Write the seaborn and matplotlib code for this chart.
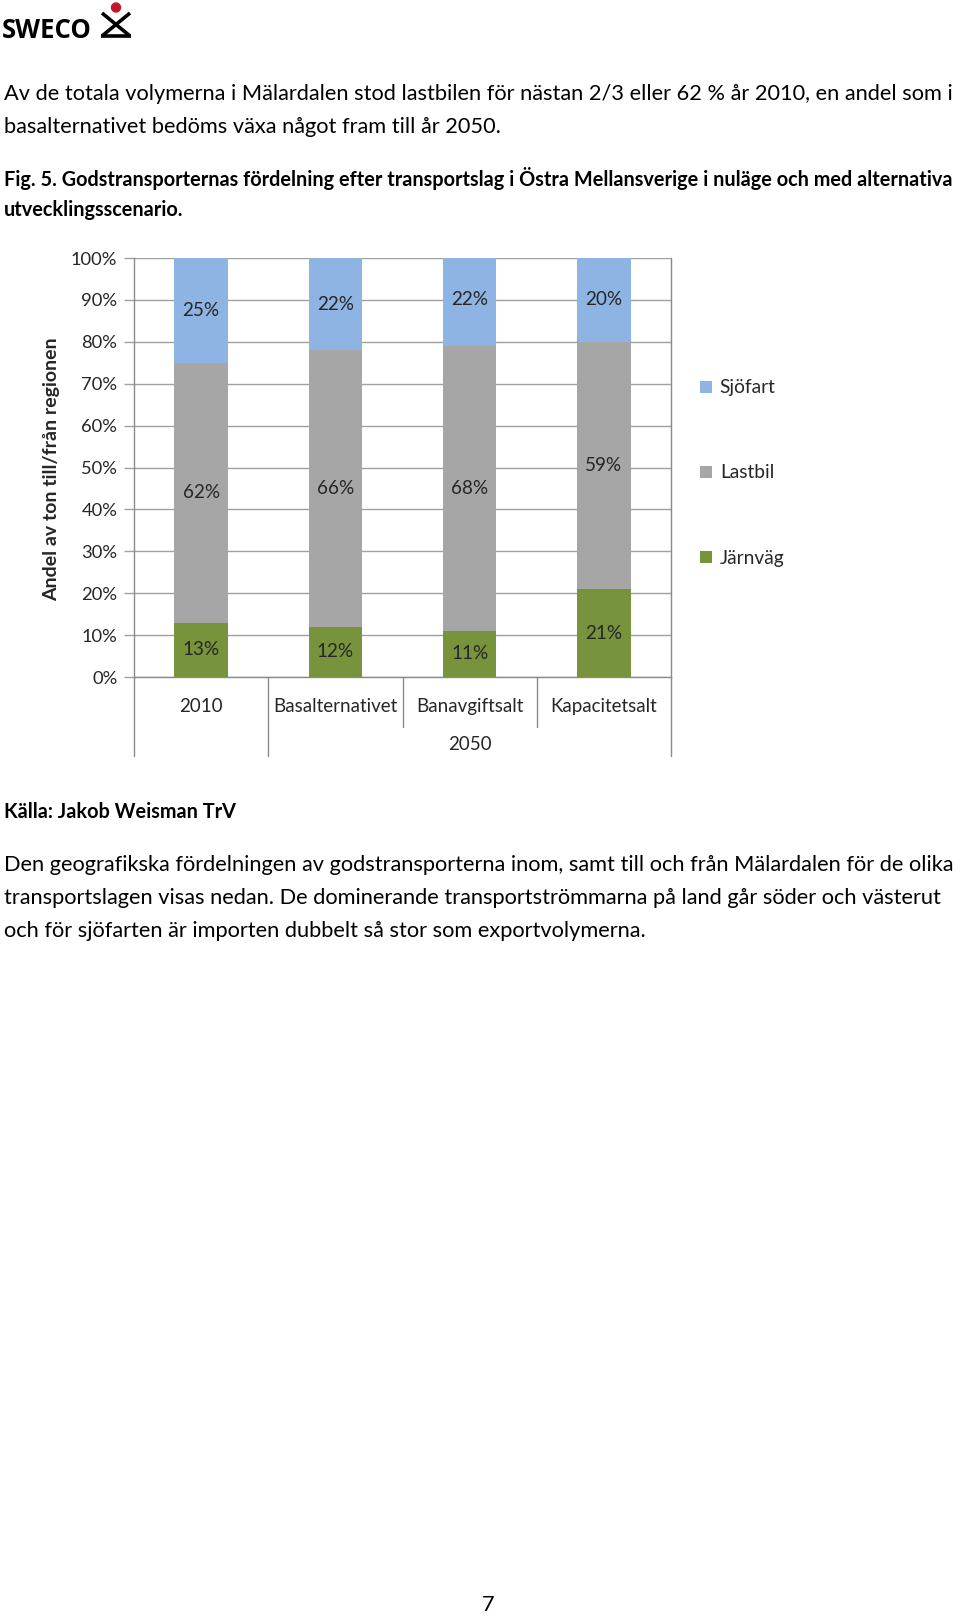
import matplotlib
matplotlib.use("Agg")
import matplotlib.pyplot as plt
import seaborn as sns
import pandas as pd
from matplotlib.patches import Rectangle, Ellipse
from matplotlib.lines import Line2D
from matplotlib.transforms import blended_transform_factory

# ---------------- data ----------------
categories = ["2010", "Basalternativet", "Banavgiftsalt", "Kapacitetsalt"]
jarnvag = [13, 12, 11, 21]
lastbil = [62, 66, 68, 59]
sjofart = [25, 22, 22, 20]
series_names = ["Sjöfart", "Lastbil", "Järnväg"]
yticks = [0, 10, 20, 30, 40, 50, 60, 70, 80, 90, 100]
group_label = "2050"
ylabel = "Andel av ton till/från regionen"

para1 = ["Av de totala volymerna i Mälardalen stod lastbilen för nästan 2/3 eller 62 % år 2010, en andel som i",
         "basalternativet bedöms växa något fram till år 2050."]
caption = ["Fig. 5. Godstransporternas fördelning efter transportslag i Östra Mellansverige i nuläge och med alternativa",
           "utvecklingsscenario."]
source = "Källa: Jakob Weisman TrV"
para2 = ["Den geografikska fördelningen av godstransporterna inom, samt till och från Mälardalen för de olika",
         "transportslagen visas nedan. De dominerande transportströmmarna på land går söder och västerut",
         "och för sjöfarten är importen dubbelt så stor som exportvolymerna."]
page_no = "7"

# ---------------- style ----------------
sns.set_theme(style="white")
plt.rcParams['font.family'] = ['Lato', 'DejaVu Sans']

colors = {"Sjöfart": "#8DB4E2", "Lastbil": "#A6A6A6", "Järnväg": "#77933C"}
grid_c = "#A0A0A0"
axis_c = "#8A8A8A"
text_c = "#262626"

W, H = 960, 1617
fig = plt.figure(figsize=(W / 100, H / 100), dpi=100)
fig.patch.set_facecolor("white")

def fx(x):
    return x / W

def fy(y):
    return 1 - y / H

# ---------------- page text ----------------
body_fs = 15.7
fig.text(fx(2), fy(30), "SWECO", fontsize=18.5, fontweight="bold", color="black",
         va="center", ha="left", family=["Open Sans", "DejaVu Sans"])
# logo glyph
fig.patches.append(Ellipse((fx(116), fy(7.5)), 9 / W, 9 / H, color="#C0182B",
                           transform=fig.transFigure, figure=fig))
for (x0, y0, x1, y1) in [(102, 13, 130, 36), (130, 13, 102, 36), (101, 36, 131, 36)]:
    fig.lines.append(Line2D([fx(x0), fx(x1)], [fy(y0), fy(y1)], color="black", lw=2.6,
                            solid_capstyle="butt", transform=fig.transFigure, figure=fig))

for i, line in enumerate(para1):
    fig.text(fx(4), fy(94 + 33 * i), line, fontsize=body_fs, color="black", va="center", ha="left")
for i, line in enumerate(caption):
    fig.text(fx(4), fy(179 + 31 * i), line, fontsize=14.3, fontweight="bold",
             color="black", va="center", ha="left")
fig.text(fx(4), fy(812), source, fontsize=14.3, fontweight="bold", color="black",
         va="center", ha="left")
for i, line in enumerate(para2):
    fig.text(fx(4), fy(865 + 33 * i), line, fontsize=body_fs, color="black", va="center", ha="left")
fig.text(fx(488), fy(1605), page_no, fontsize=body_fs, color="black", va="center", ha="center")

# ---------------- chart ----------------
ax_l, ax_r, ax_t, ax_b = 134, 671, 258, 677
ax = fig.add_axes([fx(ax_l), fy(ax_b), (ax_r - ax_l) / W, (ax_b - ax_t) / H])

df = pd.DataFrame({"cat": categories, "Järnväg": jarnvag, "Lastbil": lastbil, "Sjöfart": sjofart})
df["top_J"] = df["Järnväg"]
df["top_L"] = df["top_J"] + df["Lastbil"]
df["top_S"] = df["top_L"] + df["Sjöfart"]

bar_w = 0.4
sns.barplot(data=df, x="cat", y="top_S", color=colors["Sjöfart"], width=bar_w, saturation=1,
            ax=ax, zorder=2, linewidth=0, order=categories)
sns.barplot(data=df, x="cat", y="top_L", color=colors["Lastbil"], width=bar_w, saturation=1,
            ax=ax, zorder=3, linewidth=0, order=categories)
sns.barplot(data=df, x="cat", y="top_J", color=colors["Järnväg"], width=bar_w, saturation=1,
            ax=ax, zorder=4, linewidth=0, order=categories)

tick_fs = 13.2
ax.set_ylim(0, 100)
ax.set_xlim(-0.5, len(categories) - 0.5)
ax.set_yticks(yticks)
ax.set_yticklabels([f"{v}%" for v in yticks])
ax.yaxis.grid(True, color=grid_c, lw=1.0, zorder=0)
ax.xaxis.grid(False)
ax.set_axisbelow(True)
ax.set_xlabel("")
ax.set_ylabel("")
ax.set_xticks(range(len(categories)))
ax.set_xticklabels(categories)
ax.tick_params(axis="x", length=0, pad=15, labelsize=13.5, labelcolor=text_c)
ax.tick_params(axis="y", length=7, width=1, color=grid_c, pad=5, labelsize=tick_fs,
               labelcolor=text_c, left=True)

ax.spines["top"].set_visible(False)
for s in ["left", "right", "bottom"]:
    ax.spines[s].set_visible(True)
    ax.spines[s].set_color(axis_c)
    ax.spines[s].set_linewidth(1.0)

# category separators below axis
btrans = blended_transform_factory(ax.transData, ax.transAxes)
span = ax_b - ax_t
full_depth = -(756 - ax_b) / span
inner_depth = -(727 - ax_b) / span
n = len(categories)
for xs, d in [(-0.5, full_depth), (0.5, full_depth), (1.5, inner_depth), (2.5, inner_depth),
              (n - 0.5, full_depth)]:
    ax.plot([xs, xs], [0, d], color=axis_c, lw=1.0, transform=btrans, clip_on=False)
ax.text(2, -(744 - ax_b) / span, group_label, transform=btrans, ha="center", va="center",
        fontsize=13.5, color=text_c)

# value labels
for i in range(n):
    bottoms = [0, df["top_J"][i], df["top_L"][i]]
    vals = [df["Järnväg"][i], df["Lastbil"][i], df["Sjöfart"][i]]
    for b, v in zip(bottoms, vals):
        ax.text(i, b + v / 2, f"{v}%", ha="center", va="center", fontsize=13.6, color=text_c, zorder=6)

# legend
handles = [Rectangle((0, 0), 1, 1, facecolor=colors[s], edgecolor="none") for s in series_names]
fig.legend(handles, series_names, loc="center left", bbox_to_anchor=(fx(683), fy(473)),
           frameon=False, fontsize=13.8, labelspacing=3.55, handlelength=0.62, handleheight=0.62,
           handletextpad=0.4, labelcolor=text_c)

fig.text(fx(52), fy(469), ylabel, rotation=90, fontsize=14, fontweight="bold", color=text_c,
         ha="center", va="center")

fig.savefig("out.png", dpi=100, facecolor="white")
